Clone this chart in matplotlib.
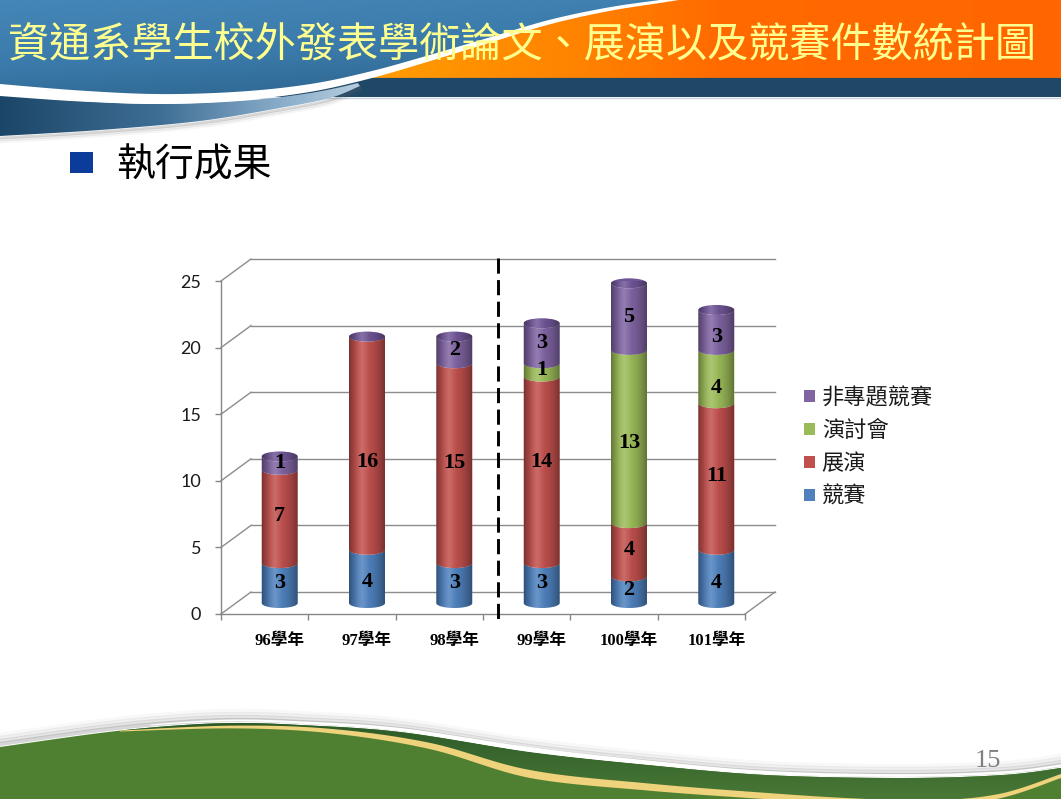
import numpy as np
import matplotlib
matplotlib.use('Agg')
import matplotlib.pyplot as plt
from matplotlib.patches import Polygon, Rectangle, Ellipse, Patch
from matplotlib.colors import LinearSegmentedColormap
from matplotlib.font_manager import FontProperties

# ---------------- data ----------------
categories = ['96學年', '97學年', '98學年', '99學年', '100學年', '101學年']
series_names = ['競賽', '展演', '演討會', '非專題競賽']
jingsai = [3, 4, 3, 3, 2, 4]          # 競賽
zhanyan = [7, 16, 15, 14, 4, 11]      # 展演
yantaohui = [0, 0, 0, 1, 13, 4]       # 演討會
feizhuanti = [1, 0, 2, 3, 5, 3]       # 非專題競賽
yticks = [0, 5, 10, 15, 20, 25]
title = '資通系學生校外發表學術論文、展演以及競賽件數統計圖'
subtitle = '執行成果'
page_no = '15'

# layout only: a few data labels were moved by hand in the original (pixels, downward)
label_nudge_px = {(1, 0): 6, (1, 1): 19, (3, 1): -8, (4, 2): 7, (5, 0): 7, (5, 2): 11, (5, 3): 7}

series = [jingsai, zhanyan, yantaohui, feizhuanti]
colors = ['#4F81BD', '#C0504D', '#9BBB59', '#8064A2']
cap_color = '#6F5596'

W, H, DPI = 1061, 799, 100
fig = plt.figure(figsize=(W / DPI, H / DPI), dpi=DPI, facecolor='white')

# ---------------- slide background ----------------
bg = fig.add_axes([0, 0, 1, 1])
bg.set_xlim(0, W)
bg.set_ylim(H, 0)
bg.axis('off')
bg.set_zorder(0)


def smooth(pts, n=24):
    pts = np.asarray(pts, float)
    P = np.vstack([pts[0], pts, pts[-1]])
    out = []
    for i in range(1, len(P) - 2):
        p0, p1, p2, p3 = P[i - 1], P[i], P[i + 1], P[i + 2]
        t = np.linspace(0, 1, n, endpoint=False)[:, None]
        seg = 0.5 * ((2 * p1) + (-p0 + p2) * t + (2 * p0 - 5 * p1 + 4 * p2 - p3) * t ** 2
                     + (-p0 + 3 * p1 - 3 * p2 + p3) * t ** 3)
        out.append(seg)
    out.append(pts[-1][None, :])
    return np.vstack(out)


def grad_poly(ax, pts, stops, angle=0, zorder=1):
    pts = np.asarray(pts)
    x0, x1 = pts[:, 0].min(), pts[:, 0].max()
    y0, y1 = pts[:, 1].min(), pts[:, 1].max()
    X, Y = np.meshgrid(np.linspace(0, 1, 300), np.linspace(0, 1, 120))
    a = np.deg2rad(angle)
    D = X * np.cos(a) + Y * np.sin(a)
    D = (D - D.min()) / (D.max() - D.min())
    cmap = LinearSegmentedColormap.from_list('g', stops)
    im = ax.imshow(D, cmap=cmap, extent=(x0, x1, y1, y0), origin='upper',
                   aspect='auto', interpolation='bilinear', zorder=zorder)
    poly = Polygon(pts, closed=True, fc='none', ec='none', zorder=zorder)
    ax.add_patch(poly)
    im.set_clip_path(poly)


def band(curve, thick):
    c = np.asarray(curve)
    up = c - np.column_stack([np.zeros(len(c)), thick / 2])
    dn = c + np.column_stack([np.zeros(len(c)), thick / 2])
    return np.vstack([up, dn[::-1]])


# top banner: orange
grad_poly(bg, [(0, 0), (W, 0), (W, 78), (0, 78)],
          [(0, '#FFB000'), (0.33, '#FFA000'), (0.55, '#FF8200'), (0.68, '#FF6A00'), (1, '#FF6600')],
          angle=0, zorder=1)
bg.plot([0, W], [78, 78], color='#7A6A5A', lw=1, zorder=1.5)
# navy stripe
bg.add_patch(Rectangle((260, 78), W - 260, 19, fc='#1F4866', ec='none', zorder=1.6))
bg.plot([260, W], [97.5, 97.5], color='#C8D6E4', lw=1, zorder=1.6)

S = smooth([(0, 90), (80, 96), (160, 99), (240, 96), (310, 88), (370, 75), (430, 58),
            (490, 40), (550, 22), (610, 9), (670, 0), (720, -8)])
upper_blue = np.vstack([S, [[720, -10], [0, -10]]])
grad_poly(bg, upper_blue, [(0, '#4688BA'), (0.5, '#3B7BAB'), (1, '#2A5E86')], angle=70, zorder=2)

# lower blue band
Sl = S[S[:, 0] <= 360] + [0, 5]
lower_edge = smooth([(360, 86), (330, 98), (280, 108), (200, 121), (100, 130), (0, 136)])
grad_poly(bg, np.vstack([Sl, lower_edge]),
          [(0, '#1C4668'), (0.45, '#3F6F96'), (0.8, '#8DB0CC'), (1, '#B5CCDD')], angle=0, zorder=2.1)
for k, al in [(2, 0.25), (4, 0.12), (6, 0.06)]:
    bg.plot(lower_edge[:, 0], lower_edge[:, 1] + k, color='#666666', alpha=al, lw=2, zorder=2.05)
# white swoosh
th = np.interp(S[:, 0], [0, 300, 660, 720], [12, 8, 3, 2])
bg.add_patch(Polygon(band(S, th), fc='white', ec='none', zorder=2.3))

# bottom green wave
G = smooth([(0, 747), (100, 733), (170, 726), (233, 723), (300, 725), (400, 732), (530, 752),
            (648, 765), (766, 775), (902, 778), (1003, 775), (1061, 768)])
for k, al in [(3, 0.35), (6, 0.22), (9, 0.12), (12, 0.06)]:
    bg.plot(G[:, 0], G[:, 1] - k, color='#8A8A8A', alpha=al, lw=3, zorder=2)
bg.add_patch(Polygon(np.vstack([G, [[W, H + 2], [0, H + 2]]]), fc='#4F8031', ec='none', zorder=2.2))
Yc = smooth([(120, 731), (233, 727), (330, 731), (430, 746), (530, 774), (648, 787), (766, 796),
             (850, 801), (930, 803), (1000, 796), (1061, 776)])
Gp = G[G[:, 0] >= 120]
grad_poly(bg, np.vstack([Gp, Yc[::-1]]), [(0, '#2D5A28'), (1, '#4A7A37')], angle=90, zorder=2.3)
ty = np.interp(Yc[:, 0], [120, 250, 530, 800, 1061], [1, 3, 8, 6, 4])
bg.add_patch(Polygon(band(Yc, ty), fc='#EED27C', ec='none', zorder=2.4))
Gw = G[G[:, 0] >= 150] - [0, 2.5]
tw = np.interp(Gw[:, 0], [150, 400, 530, 800, 1061], [1, 3, 5, 3, 2])
bg.add_patch(Polygon(band(Gw, tw), fc='white', ec='none', zorder=2.35))

# titles
bg.text(8, 45, title, fontsize=29.6, color='#FFFF90', ha='left', va='center',
        family=['Noto Sans CJK TC', 'DejaVu Sans'], zorder=5)
bg.add_patch(Rectangle((70, 152), 23, 21, fc='#0B3C9C', ec='none', zorder=5))
bg.text(116, 165, subtitle, fontsize=28, color='black', ha='left', va='center',
        family=['Noto Sans CJK TC', 'DejaVu Sans'], zorder=5)
bg.text(988, 761, page_no, fontsize=19, color='#7F7F7F', ha='center', va='center',
        family='Liberation Serif', zorder=5)

# ---------------- chart ----------------
L, R = 221, 745
YB, YT = 614, 281
ax = fig.add_axes([L / W, 1 - YB / H, (R - L) / W, (YB - YT) / H])
ax.set_zorder(2)
ax.patch.set_alpha(0)
n = len(categories)
ymax = yticks[-1]
sx = (R - L) / n
sy = (YB - YT) / ymax
DX, DY = 30, 22
ox, oy = DX / sx, DY / sy

grid_c = '#8C8C8C'
for v in yticks:
    ax.plot([ox, n + ox], [v + oy, v + oy], color=grid_c, lw=1, zorder=1, clip_on=False)
    ax.plot([0, ox], [v, v + oy], color=grid_c, lw=1, zorder=1, clip_on=False)
ax.plot([n, n + ox], [0, oy], color=grid_c, lw=1, zorder=1, clip_on=False)

bw = 36 / sx
eb = 5 / sy
t_low = np.linspace(np.pi, 2 * np.pi, 50)
t_up = np.linspace(0, np.pi, 50)
u = np.linspace(0, 1, 120)
dark = np.where(u > 0.38, ((u - 0.38) / 0.62) ** 2, ((0.38 - u) / 0.38) ** 2) * 0.38
light = np.clip(1 - np.abs(u - 0.36) / 0.22, 0, 1) * 0.16
img_dark = np.zeros((1, len(u), 4)); img_dark[0, :, 3] = dark
img_light = np.ones((1, len(u), 4)); img_light[0, :, 3] = light

lab_font = dict(family='Liberation Serif', weight='bold', size=16, color='black')
for i in range(n):
    cx = i + 0.5 + ox / 2
    base = 0
    xs_low = cx + bw / 2 * np.cos(t_low)
    for j, (s, col) in enumerate(zip(series, colors)):
        v = s[i]
        if v > 0:
            top = base + v
            lower0 = np.column_stack([xs_low, base + oy / 2 + eb * np.sin(t_low)])
            lower1 = np.column_stack([xs_low, top + oy / 2 + eb * np.sin(t_low)])[::-1]
            ax.add_patch(Polygon(np.vstack([lower0, lower1]), fc=col, ec='none',
                                 zorder=3, clip_on=False))
            ly = (base + top) / 2 + oy / 2 - label_nudge_px.get((i, j), 0) / sy
            ax.text(cx, ly, str(v), ha='center', va='center',
                    zorder=7, clip_on=False, **lab_font)
            base = top
    total = base
    ax.add_patch(Ellipse((cx, total + oy / 2), bw, 2 * eb, fc=cap_color, ec='none',
                         zorder=4, clip_on=False))
    outline = np.vstack([
        np.column_stack([xs_low, oy / 2 + eb * np.sin(t_low)]),
        np.column_stack([cx + bw / 2 * np.cos(t_up), total + oy / 2 + eb * np.sin(t_up)]),
    ])
    clip = Polygon(outline, fc='none', ec='none', zorder=5, clip_on=False)
    ax.add_patch(clip)
    ext = (cx - bw / 2, cx + bw / 2, oy / 2 - eb, total + oy / 2 + eb)
    for img in (img_dark, img_light):
        im = ax.imshow(img, extent=ext, origin='lower', aspect='auto',
                       interpolation='bilinear', zorder=5)
        im.set_clip_path(clip)

# dashed separator between 98 and 99 學年
ax.plot([3 + ox / 2, 3 + ox / 2], [ymax + oy + 0.1, -0.45], color='black', lw=2.1,
        ls=(0, (5.2, 2.2)), zorder=6, clip_on=False)

ax.set_xlim(0, n)
ax.set_ylim(0, ymax)
for sp in ['top', 'right']:
    ax.spines[sp].set_visible(False)
for sp in ['left', 'bottom']:
    ax.spines[sp].set_color('#868686')
    ax.spines[sp].set_linewidth(1)
ax.set_yticks(yticks)
ax.set_yticklabels([str(v) for v in yticks])
ax.tick_params(axis='y', direction='out', length=4.3, width=1, color='#868686',
               labelsize=13, labelcolor='#1A1A1A', pad=10)
for lbl in ax.get_yticklabels():
    lbl.set_family('Lato')
ax.set_xticks(np.arange(n + 1))
ax.set_xticklabels([])
ax.tick_params(axis='x', which='major', direction='out', length=4.3, width=1, color='#868686')
ax.set_xticks([i + 0.5 + ox / 2 for i in range(n)], labels=categories, minor=True)
ax.tick_params(axis='x', which='minor', length=0, pad=14)
xfp = FontProperties(family=['Liberation Serif', 'Noto Sans CJK TC'], weight='bold', size=12)
for lbl in ax.get_xticklabels(minor=True):
    lbl.set_fontproperties(xfp)
    lbl.set_color('black')

handles = [Patch(fc=c, ec='none') for c in colors][::-1]
leg = ax.legend(handles, series_names[::-1], loc='center left',
                bbox_to_anchor=(804 / W, 1 - 447 / H), bbox_transform=fig.transFigure,
                frameon=False, prop=FontProperties(family=['Noto Sans CJK TC', 'DejaVu Sans'], size=16),
                handlelength=0.5, handleheight=0.45, handletextpad=0.3, labelspacing=0.45,
                borderaxespad=0, borderpad=0)
for t in leg.get_texts():
    t.set_color('#1A1A1A')

fig.savefig('out.png', dpi=DPI, facecolor='white')
